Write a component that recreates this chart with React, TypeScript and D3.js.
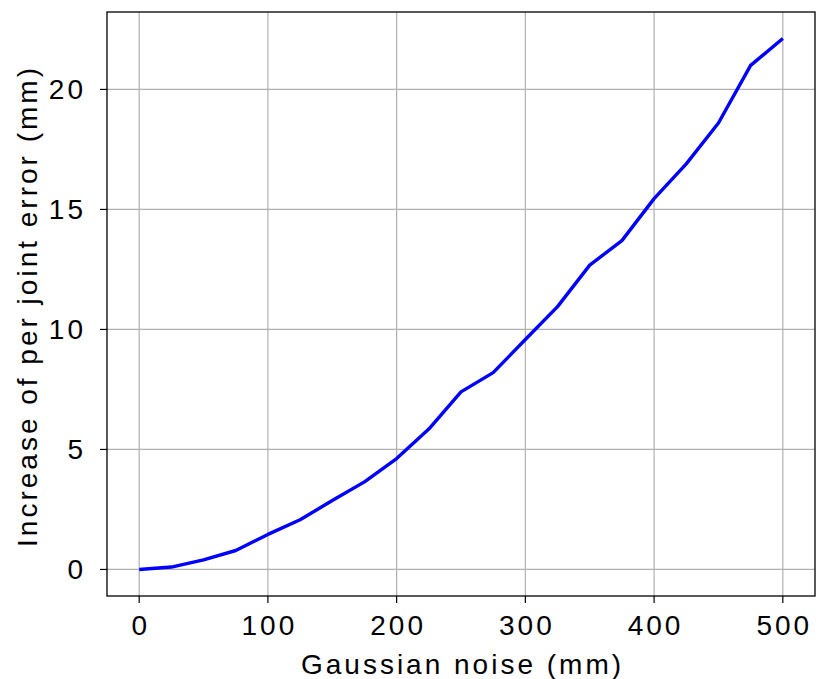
import React from "react";
import * as d3 from "d3";

const noise = [0, 25, 50, 75, 100, 125, 150, 175, 200, 225, 250, 275, 300, 325, 350, 375, 400, 425, 450, 475, 500];
const errorIncrease = [0, 0.1, 0.4, 0.79, 1.46, 2.07, 2.87, 3.65, 4.62, 5.85, 7.4, 8.2, 9.58, 10.95, 12.68, 13.7, 15.45, 16.9, 18.6, 21.0, 22.12];
const xTicks = [0, 100, 200, 300, 400, 500];
const yTicks = [0, 5, 10, 15, 20];
const xLabel = "Gaussian noise (mm)";
const yLabel = "Increase of per joint error (mm)";

export default function App() {
  const W = 830, H = 679;
  const left = 107, right = 815, top = 12, bottom = 596;
  const x = d3.scaleLinear().domain([-25, 525]).range([left, right]);
  const yMax = d3.max(errorIncrease) as number;
  const pad = yMax * 0.05;
  const y = d3.scaleLinear().domain([-pad, yMax + pad]).range([bottom, top]);
  const line = d3.line<number>().x((_, i) => x(noise[i])).y((d) => y(d));
  const font = "'Liberation Sans', Arial, sans-serif";
  const ls = 3;
  return (
    <svg width={W} height={H} style={{ position: "absolute", left: 0, top: 0 }}>
      <rect width={W} height={H} fill="#fff" />
      <g stroke="#b0b0b0" strokeWidth={1.2}>
        {xTicks.map((t) => (
          <line key={"gx" + t} x1={x(t)} x2={x(t)} y1={top} y2={bottom} />
        ))}
        {yTicks.map((t) => (
          <line key={"gy" + t} x1={left} x2={right} y1={y(t)} y2={y(t)} />
        ))}
      </g>
      <path d={line(errorIncrease) || ""} fill="none" stroke="#0000ff" strokeWidth={3.4} strokeLinejoin="round" />
      <rect x={left} y={top} width={right - left} height={bottom - top} fill="none" stroke="#000" strokeWidth={1.3} />
      <g stroke="#000" strokeWidth={1.2}>
        {xTicks.map((t) => (
          <line key={"tx" + t} x1={x(t)} x2={x(t)} y1={bottom} y2={bottom + 7} />
        ))}
        {yTicks.map((t) => (
          <line key={"ty" + t} x1={left - 7} x2={left} y1={y(t)} y2={y(t)} />
        ))}
      </g>
      <g fontFamily={font} fontSize={28} fill="#000" letterSpacing={ls}>
        {xTicks.map((t) => (
          <text key={"lx" + t} x={x(t) + ls / 2} y={635} textAnchor="middle">{t}</text>
        ))}
        {yTicks.map((t) => (
          <text key={"ly" + t} x={left - 24 + ls} y={y(t) + 10} textAnchor="end">{t}</text>
        ))}
        <text x={(left + right) / 2 + ls / 2} y={674} textAnchor="middle">{xLabel}</text>
        <text transform={`translate(37, ${306}) rotate(-90)`} textAnchor="middle">{yLabel}</text>
      </g>
    </svg>
  );
}
